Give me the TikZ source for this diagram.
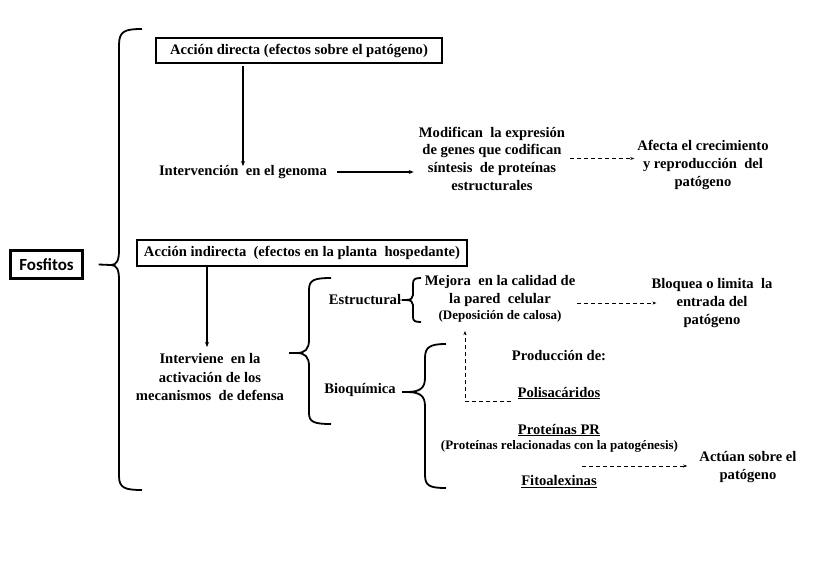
\documentclass[tikz,border=0pt]{standalone}
\usepackage{fontspec}
\setmainfont{Liberation Serif}
\newfontfamily\calfont{Carlito}
\usetikzlibrary{arrows.meta}
\begin{document}
\begin{tikzpicture}[x=1pt,y=-1pt,
  txt/.style={align=center,inner sep=0pt,font=\bfseries\fontsize{14.6}{18}\selectfont},
  small/.style={align=center,inner sep=0pt,font=\bfseries\fontsize{13}{14}\selectfont},
  boxed/.style={draw,line width=2.3pt,inner sep=0pt,font=\bfseries\fontsize{14.6}{16}\selectfont},
  brace/.style={line width=1.8pt},
  arr/.style={line width=1.3pt,-{Stealth[length=5pt,width=4pt]}},
  dsh/.style={line width=1pt,dash pattern=on 4pt off 3pt,-{Stealth[length=4pt,width=3pt]}},
  stem/.style={line width=1.8pt}
]
\useasboundingbox (0,0) rectangle (828,576);
\fill[white] (0,0) rectangle (828,576);

% Fosfitos
\node[draw,line width=2.3pt,minimum width=72pt,minimum height=28pt,inner sep=0pt,font=\calfont\bfseries\fontsize{17}{18}\selectfont] (fos) at (46.5,264.5) {Fosfitos};

% main brace
\coordinate (mt) at (111,265);
\draw[brace] (142,29) .. controls (125,29) and (119,31) .. (119,45) -- (119,250) .. controls (119,260) and (117,265) .. (mt) .. controls (117,265) and (119,270) .. (119,280) -- (119,476) .. controls (119,488) and (125,490) .. (142,490);
\draw[stem] (fos.east) ++(15pt,0) -- (mt);

% direct
\node[boxed,minimum width=286pt,minimum height=25pt] (b1) at (299,50.5) {Acción directa (efectos sobre el patógeno)};
\node[txt] (gen) at (243,172) {Intervención \ en el genoma};
\draw[arr] (gen.north |- b1.south) ++(0,2) -- ([yshift=-1pt]gen.north);
\node[txt,font=\bfseries\fontsize{14.6}{17.7}\selectfont] (mod) at (492,158.5) {Modifican \ la expresión\\de genes que codifican\\síntesis \ de proteínas\\estructurales};
\draw[arr,shorten <=10pt,shorten >=5pt] (gen.east) -- (gen.east -| mod.west);
\node[txt,font=\bfseries\fontsize{14.6}{18}\selectfont] (afe) at (703,165) {Afecta el crecimiento\\y reproducción \ del\\patógeno};
\draw[dsh,shorten <=5pt,shorten >=3pt] (mod.east) -- (mod.east -| afe.west);

% indirect
\node[boxed,minimum width=330pt,minimum height=26pt] (b2) at (302,253) {Acción indirecta \ (efectos en la planta \ hospedante)};
\node[txt,font=\bfseries\fontsize{14.6}{18.5}\selectfont] (int) at (210,377.5) {Interviene \ en la\\activación de los\\mecanismos \ de defensa};
\draw[arr] (207,266) -- (207,347);

% brace 2
\coordinate (t2) at (297,353);
\draw[brace] (331,278) .. controls (314,278) and (309,280) .. (309,290) -- (309,340) .. controls (309,349) and (305,353) .. (t2) .. controls (305,353) and (309,357) .. (309,366) -- (309,413) .. controls (309,422) and (314,424) .. (331,424);
\draw[stem,shorten <=5pt] (int.east |- t2) -- (t2);

% Estructural
\node[txt] (est) at (365,300) {Estructural};
\coordinate (t3) at (406,300);
\draw[brace] (421,278) .. controls (415,278) and (413,279) .. (413,284) -- (413,295) .. controls (413,298) and (411,300) .. (t3) .. controls (411,300) and (413,302) .. (413,305) -- (413,317) .. controls (413,321) and (415,322) .. (421,322);
\draw[stem,shorten <=1pt] (est.east) -- (t3);
\node[txt] (mej) at (500,291) {Mejora \ en la calidad de\\la pared \ celular};
\node[small] (dep) at (500,316.5) {(Deposición de calosa)};
\node[txt] (blo) at (712,303) {Bloquea o limita \ la\\entrada del\\patógeno};
\draw[dsh,shorten >=-5pt] ([xshift=2pt]mej.east |- 0,303) -- (blo.west |- 0,303);

% Bioquimica
\node[txt] (bio) at (360,390) {Bioquímica};
\coordinate (t4) at (407,392);
\draw[brace] (446,344) .. controls (430,344) and (425,347) .. (425,358) -- (425,378) .. controls (425,388) and (420,392) .. (t4) .. controls (420,392) and (425,396) .. (425,406) -- (425,475) .. controls (425,486) and (430,488) .. (446,488);
\draw[stem,shorten <=6pt] (bio.east |- t4) -- (t4);

\node[txt] (pro) at (559,356) {Producción de:};
\node[txt] (pol) at (559,393) {\underline{Polisacáridos}};
\coordinate (pd) at (465,401);
\draw[dsh] ([xshift=-6pt]pol.west |- pd) -- (pd) -- (465,331);
\node[txt] (ppr) at (559,430) {\underline{Proteínas PR}};
\node[small] (prel) at (559.5,446.5) {(Proteínas relacionadas con la patogénesis)};
\node[txt] (fit) at (559,482) {\underline{Fitoalexinas}};
\node[txt] (act) at (748,467) {Actúan sobre el\\patógeno};
\coordinate (fs) at (582,466);
\draw[dsh,shorten >=12pt] (fs) -- (fs -| act.west);
\end{tikzpicture}
\end{document}
